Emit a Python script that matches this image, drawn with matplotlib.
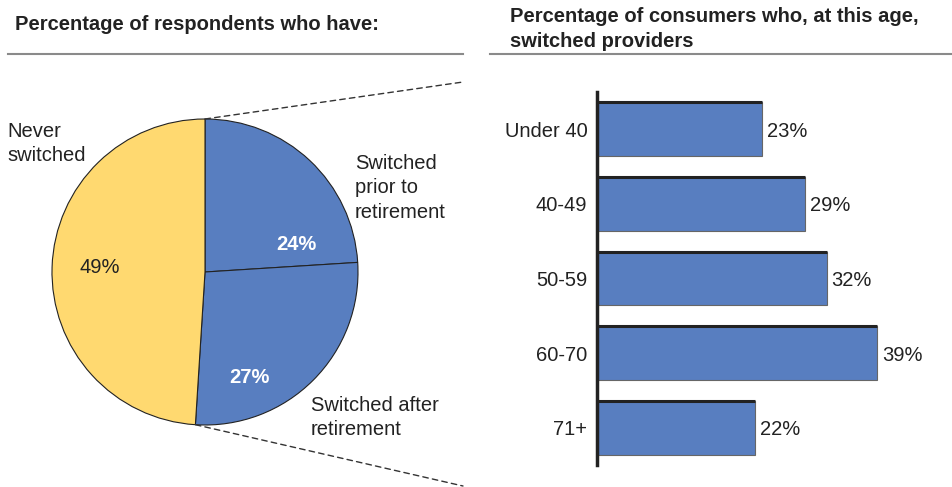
import matplotlib.pyplot as plt
from matplotlib.patches import ConnectionPatch
import numpy as np

plt.rcParams["font.family"] = ["Liberation Sans", "DejaVu Sans"]

# Pie: share of respondents
pie_labels = ["Switched\nprior to\nretirement", "Switched after\nretirement", "Never\nswitched"]
pie_values = [24, 27, 49]

# Bars: switched providers, by age
age_groups = ["Under 40", "40-49", "50-59", "60-70", "71+"]
age_values = [23, 29, 32, 39, 22]

BLUE = "#587ec0"
YELLOW = "#ffd970"
INK = "#222222"
FS = 14.5

W, H = 953, 487
fig = plt.figure(figsize=(W / 100, H / 100), dpi=100)


def px_axes(left, top, width, height):
    # axes placed by pixel box (top-left origin)
    return fig.add_axes([left / W, (H - top - height) / H, width / W, height / H])


# full-figure overlay for titles, rules and connectors
over = px_axes(0, 0, W, H)
over.set_xlim(0, W)
over.set_ylim(H, 0)
over.axis("off")

over.text(15, 24, "Percentage of respondents who have:", fontsize=FS, fontweight="bold",
          color=INK, va="center", ha="left")
over.text(510, 29, "Percentage of consumers who, at this age,\nswitched providers", fontsize=FS,
          fontweight="bold", color=INK, va="center", ha="left", linespacing=1.35)
over.plot([8, 463], [54, 54], color="#8a8a8a", lw=1.5)
over.plot([490, 953], [54, 54], color="#8a8a8a", lw=1.5)

# pie
ax_pie = px_axes(52, 119, 306, 306)
wedges, _ = ax_pie.pie(pie_values, colors=[BLUE, BLUE, YELLOW], startangle=90, counterclock=False,
                       radius=1, wedgeprops=dict(edgecolor=INK, linewidth=0.8))
ax_pie.set_xlim(-1, 1)
ax_pie.set_ylim(-1, 1)
ax_pie.set_aspect("equal")
ax_pie.axis("off")

pct_pos = [(0.60, 0.18), (0.29, -0.69), (-0.69, 0.03)]
pct_color = ["white", "white", INK]
pct_weight = ["bold", "bold", "normal"]
for v, (x, y), c, fw in zip(pie_values, pct_pos, pct_color, pct_weight):
    ax_pie.text(x, y, f"{v}%", color=c, fontsize=FS, fontweight=fw, ha="center", va="center")

name_pos = [(0.98, 0.55), (0.69, -0.95), (-1.29, 0.84)]
for name, (x, y) in zip(pie_labels, name_pos):
    ax_pie.text(x, y, name, fontsize=FS, color=INK, ha="left", va="center", linespacing=1.35)

# dashed connectors from the "switched" part of the pie
start = np.deg2rad(90)
end = np.deg2rad(90 - 360 * (pie_values[0] + pie_values[1]) / sum(pie_values))
for ang, target in [(start, (463, 82)), (end, (463, 486))]:
    con = ConnectionPatch(xyA=(np.cos(ang), np.sin(ang)), coordsA=ax_pie.transData,
                          xyB=target, coordsB=over.transData,
                          linestyle=(0, (4, 3)), color="#333333", lw=1)
    fig.add_artist(con)

# bars
ax_bar = px_axes(597, 92, 45 * 7.18, 373)
ypos = np.arange(len(age_groups))
bar_h = 0.72
ax_bar.barh(ypos, age_values, height=bar_h, color=BLUE, edgecolor="#666666", linewidth=0.8)
ax_bar.hlines(ypos - bar_h / 2, 0, age_values, color=INK, lw=2.2)
for y, v in zip(ypos, age_values):
    ax_bar.annotate(f"{v}%", (v, y), xytext=(3.5, 0), textcoords="offset points",
                    ha="left", va="center_baseline", fontsize=FS, color=INK)
ax_bar.set_xlim(0, 45)
ax_bar.set_ylim(len(age_groups) - 0.5, -0.5)
ax_bar.set_yticks(ypos)
ax_bar.set_yticklabels(age_groups, fontsize=FS, color=INK)
ax_bar.tick_params(axis="y", length=0, pad=7)
ax_bar.set_xticks([])
for s in ["top", "right", "bottom"]:
    ax_bar.spines[s].set_visible(False)
ax_bar.spines["left"].set_linewidth(2.5)
ax_bar.spines["left"].set_color(INK)

fig.savefig("out.png", dpi=100)
